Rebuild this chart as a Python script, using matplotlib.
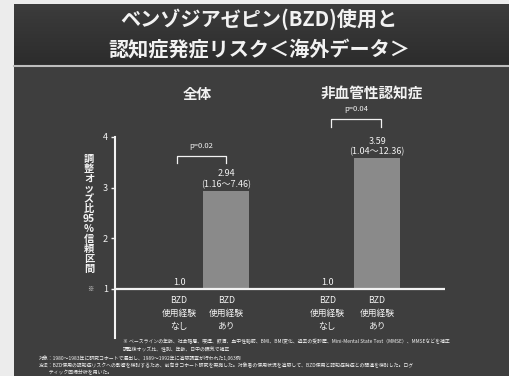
import matplotlib
matplotlib.use("Agg")
import matplotlib.pyplot as plt
from matplotlib.patches import Rectangle
import numpy as np

plt.rcParams['font.family'] = ['Noto Sans CJK JP', 'DejaVu Sans']

# odds ratios (reference = 1.0) and 95% CI labels
groups = ["全体", "非血管性認知症"]
categories = ["BZD\n使用経験\nなし", "BZD\n使用経験\nあり",
              "BZD\n使用経験\nなし", "BZD\n使用経験\nあり"]
odds = [1.0, 2.94, 1.0, 3.59]
ci_labels = ["", "(1.16～7.46)", "", "(1.04～12.36)"]
p_values = ["p=0.02", "p=0.04"]
yticks = [1, 2, 3, 4]

notes = [
    "※ ベースラインの年齢、社会階層、喫煙、飲酒、血中性脂肪、BMI、BMI変化、過去の受診歴、Mini-Mental State Test（MMSE）、MMSEなどを補正",
    "調整後オッズ比、性別、年齢、日中の眠気で補正",
    "対象：1980～1983年に研究コホートで選出し、1989～1992年に追跡調査が行われた1,063例",
    "方法：BZD使用の認知症リスクへの影響を検討するため、前向きコホート研究を実施した。対象者の使用状況を追跡して、BZD使用と認知症発症との関連を検討した。ログ",
    "　　ティック回帰分析を用いた。",
]

W, H = 510, 376
bg = "#3e3e3e"
fg = "#f2f2f2"
bar_color = "#8a8a8a"

fig = plt.figure(figsize=(W / 100, H / 100), dpi=100)
fig.patch.set_facecolor("#ececec")

def fx(px):
    return px / W

def fy(py):
    return 1 - py / H

# slide body
fig.patches.append(Rectangle((fx(14), 0), 1, fy(4), transform=fig.transFigure,
                             facecolor=bg, edgecolor="none", zorder=-5))

# title band with a soft vertical gradient
tax = fig.add_axes([fx(14), fy(65), 1 - fx(14), fy(4) - fy(65)])
grad = np.linspace(0, 1, 100).reshape(-1, 1)
tax.imshow(grad, aspect="auto", cmap=matplotlib.colors.LinearSegmentedColormap.from_list(
    "band", ["#3c3c3c", "#2c2c2c"]), extent=[0, 1, 0, 1])
tax.axis("off")
fig.add_artist(plt.Line2D([fx(14), 1], [fy(66), fy(66)], color="#bdbdbd", lw=1.5))

fig.text(0.508, fy(19), "ベンゾジアゼピン(BZD)使用と", ha="center", va="center",
         color=fg, fontsize=14.5, fontweight="bold")
fig.text(0.508, fy(50), "認知症発症リスク＜海外データ＞", ha="center", va="center",
         color=fg, fontsize=14.5, fontweight="bold")

# chart area: y=1 sits at 289 px, 50.67 px per unit
ax = fig.add_axes([fx(115), fy(338), fx(330), 4.07 * 50.67 / H])
ax.set_facecolor("none")
ax.set_xlim(0, 7.0)
ax.set_ylim(0.03, 4.1)

xpos = [1.36, 2.36, 4.5, 5.56]
ax.bar(xpos, [v - 1 for v in odds], bottom=1, width=0.98, color=bar_color, zorder=2)
ax.hlines(1, -0.05, 7.0, color=fg, lw=1.6, zorder=3)

for x, v, ci in zip(xpos, odds, ci_labels):
    label = f"{v:.1f}" if not ci else f"{v:.2f}\n{ci}"
    ax.text(x, v + 0.03, label, ha="center", va="bottom", color=fg,
            fontsize=6.5, linespacing=1.2)

for x, lab in zip(xpos, categories):
    ax.text(x, 0.86, lab, ha="center", va="top", color=fg, fontsize=6.3,
            linespacing=1.55)

# significance brackets
brackets = [(xpos[0] - 0.05, xpos[1], 3.62, 3.49), (xpos[2] + 0.08, xpos[3] + 0.08, 4.35, 4.2)]
for (x0, x1, top, leg), p in zip(brackets, p_values):
    ax.plot([x0, x0, x1, x1], [leg, top, top, leg], color=fg, lw=0.9, clip_on=False)
    ax.text((x0 + x1) / 2, top + 0.12, p, ha="center", va="bottom", color=fg,
            fontsize=5.5)

for s in ["top", "right", "bottom"]:
    ax.spines[s].set_visible(False)
ax.spines["left"].set_color(fg)
ax.spines["left"].set_linewidth(1.5)
ax.spines["left"].set_bounds(0.03, 4.0)
ax.set_xticks([])
ax.set_yticks(yticks)
ax.tick_params(axis="y", colors=fg, labelsize=6.5, length=3, width=1, direction="out", pad=2)

# y label written vertically
ylab = "調\n整\nオ\nッ\nズ\n比\n95\n%\n信\n頼\n区\n間"
fig.text(fx(89), fy(214), ylab, ha="center", va="center", color=fg,
         fontsize=7.4, fontweight="bold", linespacing=1.0)
fig.text(fx(90), fy(289), "※", ha="center", va="center", color=fg, fontsize=4.5)

fig.text(fx(197), fy(94), groups[0], ha="center", va="center", color=fg,
         fontsize=10.5, fontweight="bold")
fig.text(fx(372), fy(93), groups[1], ha="center", va="center", color=fg,
         fontsize=10.5, fontweight="bold")

# footnotes
note_pos = [(123, 342), (123, 350), (39, 358), (39, 366), (39, 373)]
for (px, py), t in zip(note_pos, notes):
    fig.text(fx(px), fy(py), t, ha="left", va="center", color=fg, fontsize=3.5)

fig.savefig("out.png", dpi=100, facecolor=fig.get_facecolor())
